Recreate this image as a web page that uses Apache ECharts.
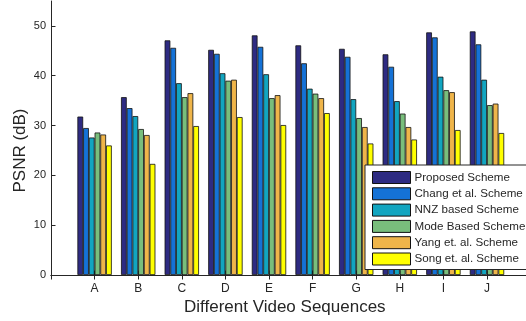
<!DOCTYPE html>
<html>
<head>
<meta charset="utf-8">
<script src="https://cdn.jsdelivr.net/npm/echarts@6/dist/echarts.min.js"></script>
<style>
  html, body { margin: 0; padding: 0; background: #fff; }
  #chart { width: 526px; height: 321px; }
</style>
</head>
<body>
<div id="chart"></div>
<script>
// Video sequences (padded with empty slots so the axis runs from 0 to 11)
const sequences = ['A', 'B', 'C', 'D', 'E', 'F', 'G', 'H', 'I', 'J'];

// PSNR (dB) per scheme, one value per sequence
const proposed = [31.8, 35.7, 47.1, 45.2, 48.1, 46.1, 45.4, 44.3, 48.7, 48.9];
const chang    = [29.5, 33.5, 45.6, 44.4, 45.8, 42.5, 43.8, 41.8, 47.7, 46.3];
const nnz      = [27.6, 31.9, 38.5, 40.5, 40.3, 37.4, 35.3, 34.9, 39.8, 39.2];
const mode     = [28.6, 29.3, 35.7, 39.0, 35.5, 36.4, 31.5, 32.4, 37.1, 34.1];
const yang     = [28.2, 28.1, 36.5, 39.2, 36.1, 35.5, 29.7, 29.7, 36.7, 34.4];
const song     = [26.0, 22.3, 29.9, 31.7, 30.1, 32.5, 26.4, 27.2, 29.1, 28.5];

const schemeNames = [
  'Proposed Scheme',
  'Chang et al. Scheme',
  'NNZ based Scheme',
  'Mode Based Scheme',
  'Yang et. al. Scheme',
  'Song et. al. Scheme'
];
const schemeValues = [proposed, chang, nnz, mode, yang, song];
const schemeColors = ['#2e2b82', '#1572d6', '#12a5c0', '#79be7c', '#efb54a', '#ffff00'];

// y-axis ticks
const yTicks = [0, 10, 20, 30, 40, 50];

const axisColor = '#262626';
const fontFamily = 'Liberation Sans, Arial, sans-serif';

const cats = [''].concat(sequences, ['']);

const chart = echarts.init(document.getElementById('chart'), null, { renderer: 'canvas' });

const series = schemeNames.map((name, i) => ({
  name: name,
  type: 'bar',
  xAxisIndex: 0,
  yAxisIndex: 0,
  barWidth: 5.73,
  barGap: '0%',
  data: [null].concat(schemeValues[i], [null]),
  itemStyle: {
    color: schemeColors[i],
    borderColor: '#111',
    borderWidth: 0.8
  },
  emphasis: { disabled: true },
  animation: false
}));

const option = {
  animation: false,
  textStyle: { fontFamily: fontFamily },
  grid: {
    left: 51, top: 1, width: 479.6, height: 274,
    containLabel: false,
    outerBoundsMode: 'none'
  },
  legend: {
    data: schemeNames,
    orient: 'vertical',
    left: 365,
    top: 165,
    padding: [6, 8, 4, 7],
    itemWidth: 38,
    itemHeight: 12,
    itemGap: 3.3,
    icon: 'rect',
    backgroundColor: '#fff',
    borderColor: axisColor,
    borderWidth: 1,
    borderRadius: 0,
    selectedMode: false,
    textStyle: { fontSize: 11.6, color: axisColor, fontFamily: fontFamily, padding: [0, 0, 0, -1] },
    itemStyle: { borderColor: '#111', borderWidth: 1 }
  },
  xAxis: [
    {
      type: 'category',
      data: cats,
      boundaryGap: false,
      position: 'bottom',
      axisLine: { lineStyle: { color: axisColor, width: 1 } },
      axisTick: { inside: true, length: 4.5, lineStyle: { color: axisColor } },
      axisLabel: { color: axisColor, fontSize: 12, margin: 8, interval: 0 },
      splitLine: { show: false },
      name: 'Different Video Sequences',
      nameLocation: 'middle',
      nameGap: 24,
      nameMoveOverlap: false,
      nameTextStyle: { fontSize: 17, color: axisColor, padding: [0, 12, 0, 0] }
    },
    {
      type: 'category',
      data: cats,
      boundaryGap: false,
      position: 'top',
      axisLine: { lineStyle: { color: axisColor, width: 1 } },
      axisTick: { inside: true, length: 4.5, lineStyle: { color: axisColor } },
      axisLabel: { show: false },
      splitLine: { show: false }
    }
  ],
  yAxis: [
    {
      type: 'value',
      min: 0,
      max: 55,
      interval: 10,
      position: 'left',
      axisLine: { show: true, lineStyle: { color: axisColor, width: 1 } },
      axisTick: { show: true, inside: true, length: 4.5, lineStyle: { color: axisColor } },
      axisLabel: {
        color: axisColor, fontSize: 11, margin: 5, showMaxLabel: false,
        formatter: v => (yTicks.indexOf(v) >= 0 ? String(v) : '')
      },
      splitLine: { show: false },
      name: 'PSNR (dB)',
      nameLocation: 'middle',
      nameGap: 22,
      nameMoveOverlap: false,
      nameTextStyle: { fontSize: 17, color: axisColor, padding: [0, 0, 0, -25] }
    },
    {
      type: 'value',
      min: 0,
      max: 55,
      interval: 10,
      position: 'right',
      axisLine: { show: true, lineStyle: { color: axisColor, width: 1 } },
      axisTick: { show: true, inside: true, length: 4.5, lineStyle: { color: axisColor } },
      axisLabel: { show: false },
      splitLine: { show: false }
    }
  ],
  series: series
};

chart.setOption(option);
</script>
</body>
</html>
